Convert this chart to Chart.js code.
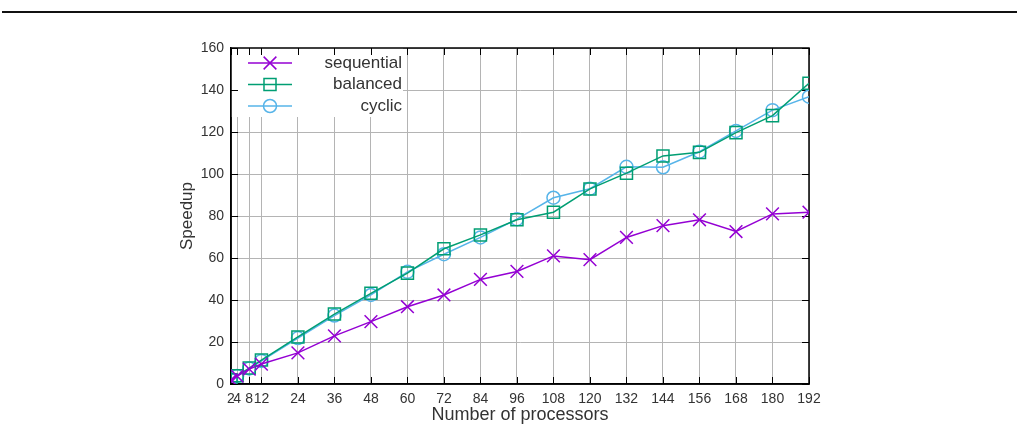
<!DOCTYPE html>
<html>
<head>
<meta charset="utf-8">
<script src="https://cdn.jsdelivr.net/npm/chart.js@4.4.1/dist/chart.umd.min.js"></script>
<style>
  html, body { margin: 0; padding: 0; background: #fff; }
  #wrap { width: 1020px; height: 427px; position: relative; }
</style>
</head>
<body>
<div id="wrap"><canvas id="chart"></canvas></div>
<script>
/* global Chart */

const processors = [2, 4, 8, 12, 24, 36, 48, 60, 72, 84, 96, 108, 120, 132, 144, 156, 168, 180, 192];
const sequential = [1.9, 3.8, 7.1, 9.5, 14.8, 22.9, 29.7, 36.8, 42.4, 49.8, 53.6, 61, 59.2, 69.8, 75.4, 78.2, 72.6, 81, 81.8];
const balanced = [2, 3.9, 7.6, 11.4, 22.4, 33.3, 43.2, 52.8, 64.4, 71, 78.2, 81.8, 92.9, 100.4, 108.6, 110.3, 119.7, 127.8, 143.2];
const cyclic = [1.9, 3.8, 7.4, 11, 21.9, 32.6, 42.4, 53.4, 61.8, 69.8, 78.5, 88.7, 93, 103.4, 103.2, 110.6, 120.5, 130.4, 136.8];
const xTicks = processors;
const yTicks = [0, 20, 40, 60, 80, 100, 120, 140, 160];

const FONT = "'Liberation Sans', Arial, sans-serif";
const TEXT = "#333";

function pts(ys) {
  return processors.map((x, i) => ({ x, y: ys[i] }));
}

const series = [
  { label: "sequential", data: sequential, color: "#9400d3", style: "crossRot", radius: 9 },
  { label: "balanced", data: balanced, color: "#009e73", style: "rect", radius: 8.5 },
  { label: "cyclic", data: cyclic, color: "#56b4e9", style: "circle", radius: 6.5 },
];

// gnuplot-like frame, inward ticks, opaque key box and page rule
const decor = {
  id: "decor",
  beforeDatasetsDraw(chart) {
    const { ctx, chartArea: a, scales } = chart;
    ctx.save();
    // key box hides the grid
    ctx.fillStyle = "#fff";
    ctx.fillRect(a.left, a.top, 172, 69);
    // inward ticks
    ctx.strokeStyle = "#000";
    ctx.lineWidth = 1;
    ctx.beginPath();
    xTicks.forEach((v) => {
      const px = Math.round(scales.x.getPixelForValue(v)) + 0.5;
      ctx.moveTo(px, a.bottom); ctx.lineTo(px, a.bottom - 7);
      ctx.moveTo(px, a.top); ctx.lineTo(px, a.top + 7);
    });
    yTicks.forEach((v) => {
      const py = Math.round(scales.y.getPixelForValue(v)) + 0.5;
      ctx.moveTo(a.left, py); ctx.lineTo(a.left + 7, py);
      ctx.moveTo(a.right, py); ctx.lineTo(a.right - 7, py);
    });
    ctx.stroke();
    // frame
    ctx.lineWidth = 1.5;
    ctx.strokeRect(a.left, a.top, a.right - a.left, a.bottom - a.top);
    // key entries
    series.forEach((s, i) => {
      const y = 63 + i * 21.5;
      ctx.strokeStyle = s.color;
      ctx.fillStyle = "rgba(0,0,0,0)";
      ctx.lineWidth = 1.5;
      ctx.beginPath();
      ctx.moveTo(248, y); ctx.lineTo(292, y);
      ctx.stroke();
      Chart.helpers.drawPoint(ctx, { pointStyle: s.style, radius: s.radius, borderWidth: 1.5 }, 270, y);
      ctx.fillStyle = TEXT;
      ctx.font = "17px " + FONT;
      ctx.textAlign = "right";
      ctx.textBaseline = "middle";
      ctx.fillText(s.label, 402, y);
    });
    // horizontal rule at the top of the page
    ctx.strokeStyle = "#111";
    ctx.lineWidth = 2;
    ctx.beginPath();
    ctx.moveTo(2, 12); ctx.lineTo(1017, 12);
    ctx.stroke();
    ctx.restore();
  },
};

new Chart(document.getElementById("chart"), {
  type: "line",
  data: {
    datasets: series.map((s) => ({
      label: s.label,
      data: pts(s.data),
      borderColor: s.color,
      borderWidth: 1.5,
      pointStyle: s.style,
      pointRadius: s.radius,
      pointHoverRadius: s.radius,
      pointBorderColor: s.color,
      pointBackgroundColor: "rgba(0,0,0,0)",
      pointBorderWidth: 1.5,
      tension: 0,
      fill: false,
    })),
  },
  options: {
    responsive: true,
    maintainAspectRatio: false,
    animation: false,
    layout: { padding: { left: 170, top: 48, right: 211, bottom: 0 } },
    plugins: { legend: { display: false }, tooltip: { enabled: false } },
    scales: {
      x: {
        type: "linear",
        min: 2,
        max: 192,
        afterBuildTicks: (scale) => { scale.ticks = xTicks.map((v) => ({ value: v })); },
        afterFit: (scale) => { scale.height = 43; },
        ticks: { autoSkip: false, maxRotation: 0, padding: 7, color: TEXT, font: { family: FONT, size: 14 } },
        grid: { color: "#b4b4b4", lineWidth: 1, drawTicks: false },
        border: { color: "#000", width: 1.5 },
        title: { display: true, text: "Number of processors", color: TEXT, font: { family: FONT, size: 18 }, padding: { top: 0, bottom: 1 } },
      },
      y: {
        min: 0,
        max: 160,
        afterBuildTicks: (scale) => { scale.ticks = yTicks.map((v) => ({ value: v })); },
        afterFit: (scale) => { scale.width = 61; },
        ticks: { padding: 7, color: TEXT, font: { family: FONT, size: 14 } },
        grid: { color: "#b4b4b4", lineWidth: 1, drawTicks: false },
        border: { color: "#000", width: 1.5 },
        title: { display: true, text: "Speedup", color: TEXT, font: { family: FONT, size: 17 }, padding: { top: 7, bottom: 0 } },
      },
    },
  },
  plugins: [decor],
});
</script>
</body>
</html>
